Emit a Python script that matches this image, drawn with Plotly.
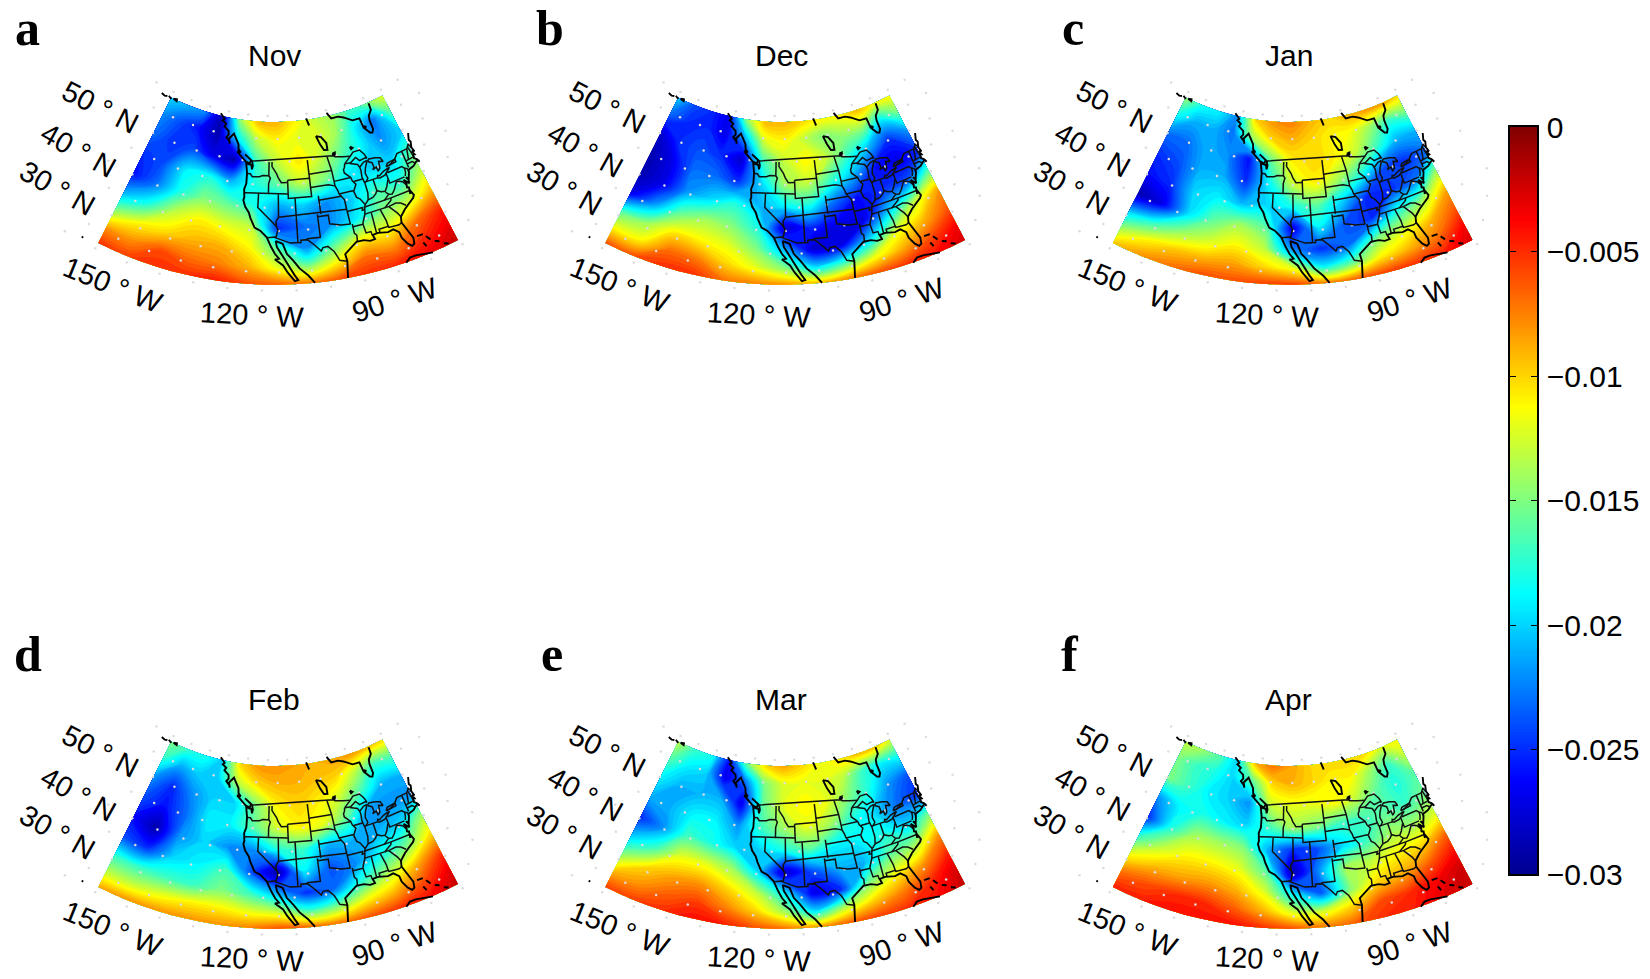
import numpy as np
import plotly.graph_objects as go

MONTHS = ["Nov", "Dec", "Jan", "Feb", "Mar", "Apr"]
LETTERS = ["a", "b", "c", "d", "e", "f"]
LONS = [-157.9, -150.6, -143.3, -136.05, -128.8, -121.5, -114.2, -106.9, -99.65, -92.4, -85.1, -77.8, -70.5]
LATS = [57.7, 53.8, 49, 44.2, 39.4, 34.6, 29.9, 26, 22.3]
TICKS = [0, -0.005, -0.01, -0.015, -0.02, -0.025, -0.03]
TICK_TEXT = ["0", "−0.005", "−0.01", "−0.015", "−0.02", "−0.025", "−0.03"]

# values in units of 0.001 (negative), rows north to south, columns west to east
NOV = [
 [20,21,22,29,14,9,9,11,13,14,17,15,12],
 [22,24,26,29,19,13,11,12,12,14,19,23,16],
 [23,25,24,27,29,17,13,10.5,13,16,19,22,20],
 [25,24,19,18,21,18,16,13,15,19,20,20,16],
 [26,23,18,15,16,18,21,20,22,20,17,18,13],
 [21,18,13,11,12,13,25,23,22,19,15,13,9],
 [14,11,10,9,9,11,16,22,16,11,11,7,4.5],
 [8,8,6,7,7.5,9,12,15,11,7,7.5,5,3],
 [5,5.5,5,5,4.5,6,6.5,7,6,5,4.5,3.5,2]]
DEC = [
 [20,24,25,27,14,9,9,10,11,11,9,11,11],
 [23,25,25,27,21,12,11,13,15,14,14,19,15],
 [28,25,24,25,28,17,13,11,13,17,21,25,22],
 [29,27,23,23,25,20,14,13,17,21,26,27,25],
 [29,27,22,20,18,21,19,18,23,26,25,24,16],
 [27,22,16,14,15,18,28,25,27,27,20,13,8],
 [16,14,10.5,11,12,15,21,28,27,20,12,9,6],
 [11,11,7,7.5,10,12,15,20,17,12,9,6,3.5],
 [6,6,5,5,7,7.5,8,9,7.5,6,5,4,2.5]]
JAN = [
 [14,18,19,22,10,8,7.5,9,10,9,8,8,10],
 [18,21,21,23,14,10,9,10,11,11.5,14,17,15],
 [23,23,21,22,26,16,11,10,11,13,17,21,21],
 [25,24,21,21,25,19,13,11,14,18,24,25,23],
 [26,25,20,19,21,20,18,16,20,25,25,23,14],
 [29,27,20,16,14,16,27,19,24,25,18,14,8.5],
 [20,17,14,12.5,11,13,22,25,23,15,12,9,6],
 [14,11,9.5,9,8.5,10,12,19,16,11,9,7,3.5],
 [9.5,8,7,6,6,5.5,5.5,7,6.5,5.5,5,4.5,2.5]]
FEB = [
 [15,17,18,20,10,8,8,8.5,9,8.5,8,9,10],
 [17,21,20,20,13,10,9,9,9.5,10,13,17,16],
 [22,25,22,20,20,15,11,10,11,13,17,21,21],
 [24,26,23,19,19,16,12.5,11,12,16,22,22,22],
 [26,29,22,20,22,22,18,17,21,21,21,20,14],
 [24,25,20,19,17,24,29,19,24,22,18,15,10],
 [17,17,17,17,15,17,21,25,23,17,13,9,5],
 [13,13,12,11,11,12,13,17,15,11,9,6,3],
 [8.5,8,8,8,8,7.5,6,6.5,7,6,5,4,2]]
MAR = [
 [13,17,18,26,15,10,8.5,10,11.5,10.5,9,9,12],
 [16,19,20,27,23,15,12,12,12,13,17,19,18],
 [19,21,21,21,27,16,12,11,12,15,18,22,24],
 [21,21,19,19,22,17,14,12,14,18,20,23,25],
 [25,22,17,18,20,20,18,16,19,19,18,20,15],
 [20,17,12,12,14,20,28,24,21,21,16,14,8],
 [14,10,8.5,8,10,13,19,27,25,15,11,8,4.5],
 [9,8,6.5,5.5,7.5,10,14,20,14,10,7.5,5,2.5],
 [5.5,5.5,5,4,4.5,6,7,8,6.5,5.5,5,4,2]]
APR = [
 [13,14,16,20,9,7,8.5,10,10,10,10,12,11],
 [15,17,18,20,16,10,9,10,11,11,14,17,13],
 [15,17,19,20,22,13,12,12,11,13,16,18,16],
 [22,19,18,19,20,17,14,15,17,17,16,17,15],
 [25,18,14,14,15,21,25,24,20,17,14,14,12],
 [17,13,11,11,12,16,29,22,14,13,11,10,6.5],
 [11,9,8.5,8,9,12,19,24,15,10,8.5,6,3.5],
 [7,6,5,5,6.5,9,12.5,13,10,6,5,3.5,2],
 [4.5,4.5,4,4,4,5,6,7,6.5,5,4.5,3,2]]
PANEL_VALUES = [NOV, DEC, JAN, FEB, MAR, APR]

# outline polylines, (lon, lat)
COAST = [
 [(-137,58.2),(-136,57.6),(-136.4,57.9),(-135,57.2),(-135.6,56.8),(-134,56.2),(-134.5,55.6),(-132.6,54.8),(-132.3,54),(-133,53.4),(-131.6,52.6),(-131.3,52.1),(-131.9,53.2),(-130.4,54.4),(-129.4,53.4),(-128.2,52.3),(-127.9,51.2),(-127,50.6),(-128.3,50.7),(-126.2,49.5),(-125,48.8),(-123.5,48.4),(-123.2,49.2),(-124.8,50),(-125.4,50.3),(-123.2,49.2),(-122.8,49)],
 [(-122.8,49),(-122.4,48),(-122.6,47.2),(-122.9,48.1),(-124.7,48.4),(-124.1,46.3),(-124,44),(-124.5,42.8),(-124.2,41),(-124.4,40.4),(-123.7,39),(-122.5,37.8),(-121.9,36.6),(-120.6,34.6),(-119,34),(-117.2,32.6),(-116,30.5),(-115,29),(-114,28),(-115,27.8),(-113,26.5),(-112,25),(-110.3,23),(-109.5,23.2),(-110.3,24.3),(-111.3,26),(-112.7,28),(-114.5,30.5),(-114.8,31.8),(-113,31.2),(-112,29),(-110.5,27.5),(-109,25.7),(-107,24),(-105.6,22.3)],
 [(-97.8,22.3),(-97.7,23),(-97.4,25),(-97.2,26),(-97.4,27.5),(-95,29),(-94,29.6),(-92,29.6),(-90.5,29.1),(-89.2,29.2),(-89.5,30.2),(-88,30.3),(-85.5,29.8),(-84,30),(-82.8,29),(-82.7,27.7),(-81.8,26),(-81,25.2),(-80.3,25.5),(-80,26.8),(-81,29.5),(-81.4,30.8),(-81,32),(-79.3,33.2),(-77.9,33.9),(-76,34.8),(-75.5,35.3),(-76,36.6),(-76.3,35.8),(-75.9,37.2),(-76.4,37.4),(-76.1,38.2),(-76.4,39.2),(-75.9,38.6),(-75.3,38),(-75.1,38.8),(-75.5,39.5),(-74.9,39),(-74,40.3),(-74,40.7),(-72,41),(-70.7,41.6),(-70,41.7),(-69.8,41.2),(-70.2,42),(-70.8,42.5),(-70.6,43.2),(-70.1,43.1),(-70.4,44),(-69.7,43.8),(-70,44.8),(-69.3,46),(-69.6,46.5),(-68.7,47.9)],
 [(-94,58.4),(-92.7,57),(-90,57),(-88,56.5),(-85,55.3),(-82.3,55.2),(-82,53),(-80.5,51.5),(-79.7,51.3),(-79,52),(-79,54),(-78.6,55),(-77,56),(-76.8,57.5)],
 [(-81.9,53.3),(-81,53),(-81.4,52.9),(-81.9,53.3)],
 [(-102.5,58),(-102,57),(-101.7,56.4),(-102.5,58)],
 [(-99.8,53.9),(-98.8,52),(-97.8,50.6),(-96.6,50.5),(-96.5,52),(-98,53.5),(-99.8,53.9)],
 [(-95.2,49.5),(-94.3,49.6),(-94.5,49),(-95.2,49.5)],
 [(-88.8,50),(-88,49.6),(-88.6,49.4),(-88.8,50)],
 [(-79,26.8),(-77.5,26.7)], [(-77,26),(-76.3,25)], [(-78.2,25),(-77.8,24)], [(-75.5,24.3),(-74.5,23.8)], [(-73.8,23),(-72.8,22.5)],
 [(-83.7,22.2),(-82.5,23),(-81,23),(-79,22.7),(-77,22.2)],
 [(-162,57.6),(-160.5,57.4),(-159.5,57.6)], [(-159,57.8),(-157.6,57.4)], [(-156.8,57.7),(-155.5,57.9),(-155.3,57.5),(-156.8,57.7)],
 [(-162,21.9),(-161.6,21.8)],
]
LAKES = [
 [(-92,46.7),(-90,46.6),(-88,47.4),(-87,46.5),(-85,46.7),(-84.5,46.5),(-84.9,47.5),(-86,48.7),(-88.3,48.7),(-89.5,48),(-92,46.7)],
 [(-87.6,41.7),(-87.8,43),(-87.5,44.5),(-87.6,45.1),(-86,45.9),(-85,46),(-85,45.7),(-86,44.5),(-86.5,43.5),(-86.2,42.3),(-87,41.7),(-87.6,41.7)],
 [(-84.7,45.8),(-83.4,45.2),(-83.3,44.2),(-83.9,43.7),(-82.6,44),(-82.5,43),(-81.7,43.5),(-81.3,45),(-80,44.6),(-80.4,45.6),(-82,46),(-84,46.2),(-84.7,45.8)],
 [(-83.4,41.7),(-82.7,41.5),(-81,41.7),(-79,42.8),(-79.2,42.9),(-81,42.6),(-82.6,42),(-83.1,42.2),(-83.4,41.7)],
 [(-79.7,43.3),(-76.3,43.5),(-76.3,44.1),(-79,43.9),(-79.7,43.3)],
]
BORDERS = LAKES + [
 [(-122.8,49),(-95.2,49),(-95.2,49.4),(-94.6,48.7),(-92,48.3),(-89.5,48)],
 [(-124,46.2),(-123,46.2),(-122.3,45.6),(-120,45.7),(-119,46),(-116.9,46)],
 [(-117,49),(-117,46),(-116.5,45.5),(-117,44.3),(-117,42)],
 [(-124.2,42),(-111,42)], [(-120,42),(-120,39),(-114.6,35),(-114.2,34.3),(-114.7,32.7)],
 [(-117.1,32.5),(-114.7,32.7),(-114.8,32.5),(-111,31.3),(-108.2,31.3),(-108.2,31.8),(-106.5,31.8),(-104.9,30.6),(-103.2,29),(-102.7,29.7),(-101.4,29.8),(-100,28.5),(-99.5,27.5),(-99,26.4),(-97.2,25.9)],
 [(-114,42),(-114,37),(-114.7,36.1),(-114.6,35)], [(-114,37),(-94.6,37)], [(-109,41),(-109,31.3)],
 [(-111,45),(-111,41),(-104,41),(-104,45),(-111,45)],
 [(-116,49),(-116,48),(-114.5,46.5),(-114,45.6),(-113,44.5),(-111,44.5)],
 [(-104,49),(-104,45)], [(-104,45.9),(-96.6,45.9)], [(-104,43),(-98.5,43),(-96.5,42.5)],
 [(-102,41),(-102,37)], [(-102,40),(-95.3,40)], [(-103,37),(-103,32),(-106.6,32)],
 [(-103,36.5),(-100,36.5),(-100,34.6),(-97,33.9),(-94.5,33.7)], [(-94.6,37),(-94.5,33.6)],
 [(-94,33.6),(-94,33),(-94,31.5),(-93.5,31),(-93.7,29.7)], [(-94,33),(-91.2,33)], [(-91.2,33),(-91,31),(-89.7,31),(-89.6,30.2)],
 [(-91.4,40.4),(-91,39),(-90.2,38.5),(-89.5,37.2),(-89.2,37),(-89.5,36.5),(-90,35),(-91,33.5),(-91.2,33)],
 [(-97.2,49),(-96.6,46),(-96.5,43.5),(-96.5,42.5),(-96,41.5),(-95.8,40.6),(-95.3,40),(-94.6,39.1),(-94.6,37)],
 [(-96.5,43.5),(-91.2,43.5)], [(-95.8,40.6),(-91.7,40.6),(-91.4,40.4)],
 [(-92,46.7),(-92.3,46),(-92.8,45.5),(-92.8,44.8),(-91.2,43.5),(-91,42.7),(-90.2,41.8),(-91,41),(-91.4,40.4)],
 [(-90.6,42.5),(-87.8,42.5)], [(-90.4,46.5),(-88,45.8),(-87.6,45.1)],
 [(-94.6,36.5),(-90.1,36.5),(-90.4,36),(-89.7,36)], [(-87.5,41.7),(-87.5,39.3),(-88,37.8)], [(-84.8,41.7),(-84.8,39.1)], [(-87.5,41.7),(-83.4,41.7)],
 [(-89.2,37),(-88,37.8),(-86.5,38),(-85.5,38.5),(-84.8,39.1),(-83.7,38.6),(-82.6,38.4),(-81.7,39.2),(-80.6,40.6)],
 [(-80.5,42),(-80.5,39.7),(-75.8,39.7)], [(-79.8,42.2),(-79.8,42),(-75.3,42),(-74.7,41.4),(-75,40.5),(-75.5,39.8)], [(-74.7,41.4),(-73.9,41)],
 [(-89.5,36.5),(-83.7,36.6),(-81.7,36.6),(-75.9,36.55)], [(-82.6,38.2),(-81.9,37.5),(-81,37.3),(-80,38),(-78.5,39.5),(-77.7,39.3),(-76.9,38.9),(-76.3,38)], [(-83.7,36.6),(-82,37.5)],
 [(-90.2,35),(-84.3,35),(-83,35),(-81,35.2),(-79.7,34.8),(-78.6,33.9)], [(-84.3,35),(-82,36.1),(-81.7,36.6)],
 [(-88.2,35),(-88.4,30.3)], [(-85.6,35),(-85,32.3),(-85,31),(-84.9,30.7)], [(-87.5,30.3),(-87.5,31),(-85,31),(-84.9,30.7),(-82.2,30.5),(-81.5,30.7)],
 [(-83.1,35),(-81.5,33),(-81,32)], [(-73.3,45),(-73.3,43),(-73.5,41.2)], [(-71.5,45),(-72.5,42.7)], [(-73.5,42),(-71.8,42),(-71.2,41.5)], [(-73.3,42.7),(-71,42.8)], [(-71,45.3),(-70.7,43.1)],
 [(-79,43.2),(-76.5,44),(-75,45),(-71.5,45),(-71,45.3),(-70.4,45.8),(-70,44.8)],
]
DOT_LONS = [-166, -158, -150, -142, -134, -126, -118, -110, -102, -94, -86, -78, -70, -62]
DOT_LATS = [59, 54, 49, 44, 39, 34, 29, 25, 21]

# panel-local label positions
LABELS = [("50 ° N",100,107,27), ("40 ° N",78,150,29), ("30 ° N",57,188,29),
          ("150 ° W",113,285,22), ("120 ° W",252,315,3), ("90 ° W",395,300,-18)]
PANEL_X = [0, 507, 1014.6, 0, 507, 1014.6]
PANEL_Y = [0, 0, 0, 644, 644, 644]
LETTER_XY = [(27,28),(550,28),(1073,28),(28,654),(552,654),(1070,654)]
PW, PH, FW, FH = 490, 335, 1650, 979

JET = [[0,"#000090"],[0.125,"#0000ff"],[0.375,"#00ffff"],[0.625,"#ffff00"],[0.875,"#ff0000"],[1,"#800000"]]

def project(lon, lat):
    lon, lat = np.asarray(lon, float), np.asarray(lat, float)
    ang = np.radians((lon + 115) * 0.62)
    r = 272 + (49 - lat) * 4.6
    return 275 + r * np.sin(ang), -110 + r * np.cos(ang)

def polylines(lines):
    xs, ys = [], []
    for ln in lines:
        x, y = project([p[0] for p in ln], [p[1] for p in ln])
        xs += list(x) + [None]; ys += list(y) + [None]
    return xs, ys

fig = go.Figure()
lats_asc = np.array(LATS[::-1], float)
lon_g, lat_g = np.meshgrid(LONS, lats_asc)
gx, gy = project(lon_g, lat_g)
cx, cy = polylines(COAST)
bx, by = polylines(BORDERS)
dlon, dlat = [], []
for j, la in enumerate(DOT_LATS):
    for lo in DOT_LONS:
        dlon.append(lo + (4 if j % 2 else 0)); dlat.append(la)
dx, dy = project(dlon, dlat)
hidden = dict(visible=False, fixedrange=True)
plain = dict(showgrid=False, showline=False, startline=False, endline=False, showticklabels="none", minorgridcount=0)
annos = []
layout = {}
for i, (name, vals) in enumerate(zip(MONTHS, PANEL_VALUES)):
    s = "" if i == 0 else str(i + 1)
    ax, ay = "x" + s, "y" + s
    layout["xaxis" + s] = dict(hidden, range=[0, PW], domain=[PANEL_X[i]/FW, (PANEL_X[i]+PW)/FW], anchor=ay)
    layout["yaxis" + s] = dict(hidden, range=[PH, 0], domain=[1-(PANEL_Y[i]+PH)/FH, 1-PANEL_Y[i]/FH], anchor=ax)
    z = -0.001 * np.array(vals[::-1], float)
    cid = "c" + str(i)
    fig.add_trace(go.Carpet(a=LONS, b=lats_asc, x=gx, y=gy, carpet=cid, xaxis=ax, yaxis=ay, aaxis=plain, baxis=plain))
    fig.add_trace(go.Contourcarpet(a=LONS, b=lats_asc, z=z, carpet=cid, xaxis=ax, yaxis=ay, colorscale=JET,
                                   zmin=-0.03, zmax=0, showscale=False, autocontour=False,
                                   contours=dict(start=-0.03, end=0, size=0.0005, coloring="fill"),
                                   line=dict(width=0)))
    fig.add_trace(go.Scatter(x=dx, y=dy, mode="markers", marker=dict(size=2.5, color="#dcdcdc"), xaxis=ax, yaxis=ay, hoverinfo="skip", showlegend=False, cliponaxis=False))
    fig.add_trace(go.Scatter(x=bx, y=by, mode="lines", line=dict(color="#111", width=1.5), xaxis=ax, yaxis=ay, hoverinfo="skip", showlegend=False, cliponaxis=False))
    fig.add_trace(go.Scatter(x=cx, y=cy, mode="lines", line=dict(color="#000", width=1.9), xaxis=ax, yaxis=ay, hoverinfo="skip", showlegend=False, cliponaxis=False))
    for t, lx, ly, rot in LABELS:
        annos.append(dict(text=t, x=lx, y=ly, xref=ax, yref=ay, textangle=rot, showarrow=False, xanchor="center", yanchor="middle",
                          font=dict(family="Liberation Sans", size=29, color="#000")))
    annos.append(dict(text=name, x=274, y=55, xref=ax, yref=ay, showarrow=False, xanchor="center", yanchor="middle",
                      font=dict(family="Liberation Sans", size=30, color="#000")))
    annos.append(dict(text=LETTERS[i], x=LETTER_XY[i][0]/FW, y=1-LETTER_XY[i][1]/FH, xref="paper", yref="paper", showarrow=False,
                      xanchor="center", yanchor="middle",
                      font=dict(family="Liberation Serif", size=50, color="#000", weight="bold")))

# colour bar
levels = np.linspace(-0.03, 0, 256)
fig.add_trace(go.Heatmap(x=[0], y=levels, z=[[v] for v in levels], colorscale=JET, zmin=-0.03, zmax=0,
                         showscale=False, xaxis="x7", yaxis="y7", hoverinfo="skip"))
layout["xaxis7"] = dict(domain=[1510/FW, 1537/FW], range=[-0.5, 0.5], anchor="y7", showticklabels=False, ticks="",
                        showgrid=False, zeroline=False, showline=True, mirror=True, linecolor="#000", linewidth=1.5, fixedrange=True)
layout["yaxis7"] = dict(domain=[1-874/FH, 1-127/FH], range=[-0.03, 0], anchor="x7", side="right", tickvals=TICKS, ticktext=TICK_TEXT,
                        ticks="inside", ticklen=6, tickcolor="#000", mirror="ticks", showline=True, linecolor="#000", linewidth=1.5,
                        showgrid=False, zeroline=False, ticklabelstandoff=2, fixedrange=True,
                        tickfont=dict(family="Liberation Sans", size=30, color="#000"))

fig.update_layout(width=FW, height=FH, margin=dict(l=0, r=0, t=0, b=0, autoexpand=False), paper_bgcolor="white", plot_bgcolor="white",
                  showlegend=False, annotations=annos, **layout)
fig.write_html("out.html", config={"displayModeBar": False},
               post_script="document.body.style.margin='0';document.documentElement.style.overflow='hidden';")
